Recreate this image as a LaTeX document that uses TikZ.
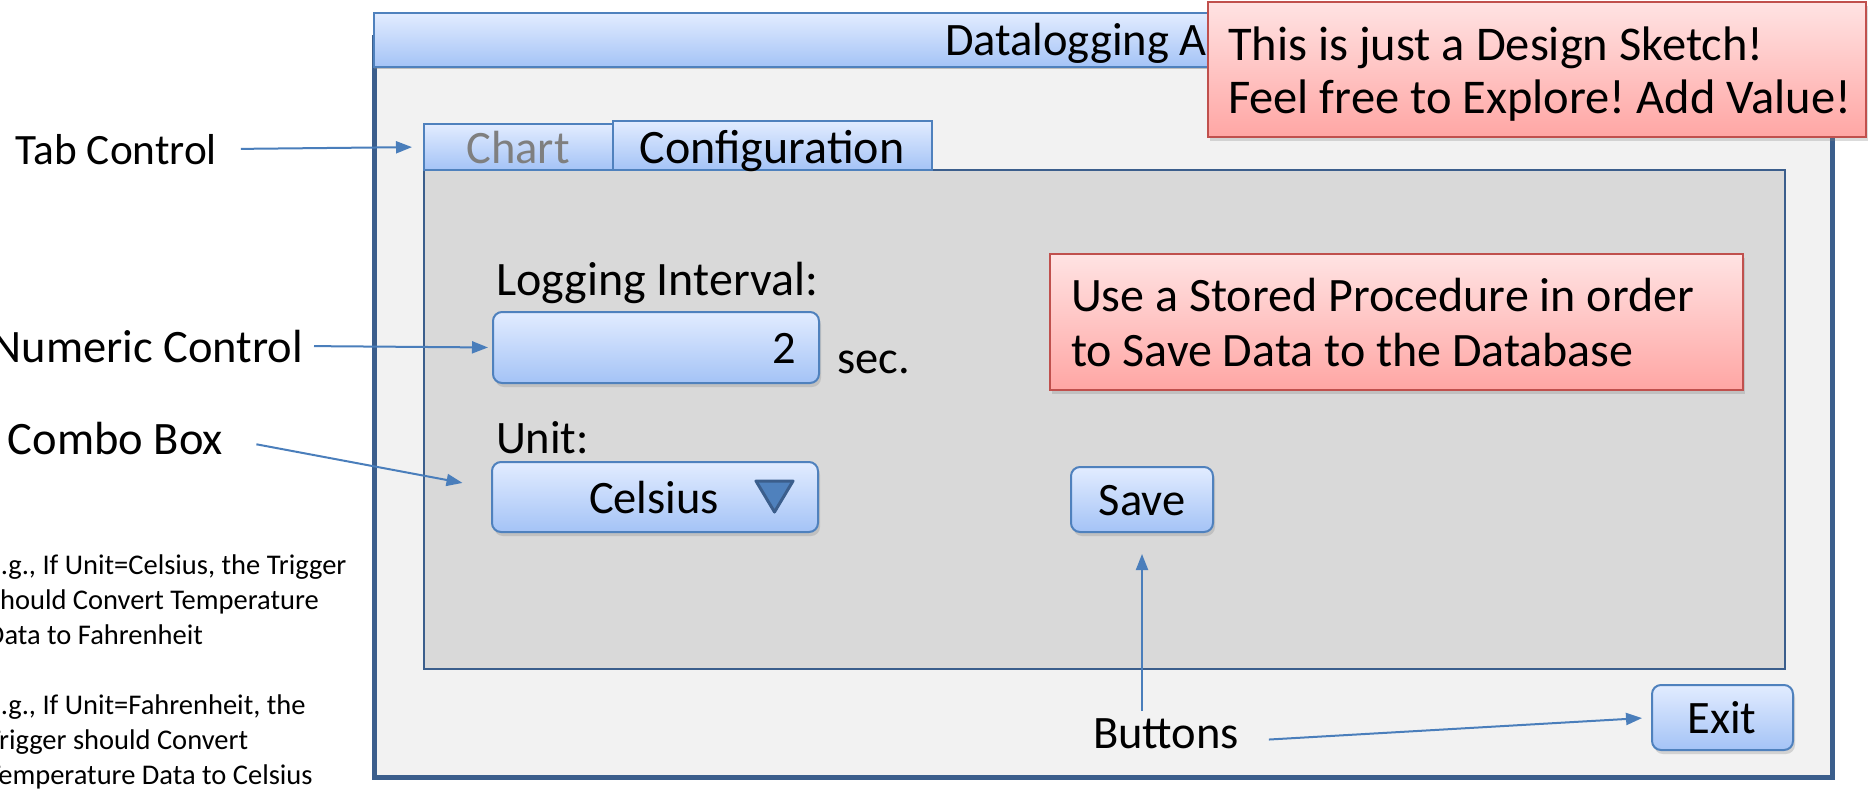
\documentclass[tikz,border=0pt]{standalone}
\usepackage{fontspec}
\setmainfont{Carlito}
\usetikzlibrary{shadows,arrows.meta,calc}
\frenchspacing

\definecolor{frameblue}{HTML}{3B5E8C}
\definecolor{edgeblue}{HTML}{4F81BD}
\definecolor{btntop}{HTML}{E2ECFF}
\definecolor{btnbot}{HTML}{A4C3F6}
\definecolor{notetop}{HTML}{FFE3E3}
\definecolor{notebot}{HTML}{FFA6A4}
\definecolor{noteedge}{HTML}{C0504D}
\definecolor{winfill}{HTML}{F2F2F2}
\definecolor{panelfill}{HTML}{D9D9D9}
\definecolor{arrowblue}{HTML}{4A7EBB}
\definecolor{tabgray}{HTML}{7F7F7F}

\tikzset{
  panelbox/.style={inner sep=0pt, outer sep=0pt, anchor=north west},
  widget/.style={panelbox, draw=edgeblue, line width=2pt, top color=btntop, bottom color=btnbot},
  softshadow/.style={drop shadow={shadow xshift=2pt, shadow yshift=-4pt, opacity=0.28}},
  button/.style={widget, rounded corners=9pt, softshadow},
  notebox/.style={panelbox, draw=noteedge, line width=2pt, top color=notetop, bottom color=notebot, softshadow},
  txt/.style={inner sep=0pt, outer sep=0pt, font=\fontsize{46.5}{56}\selectfont},
  bigtxt/.style={inner sep=0pt, outer sep=0pt, font=\fontsize{48}{56}\selectfont},
  smalltxt/.style={inner sep=0pt, outer sep=0pt, font=\fontsize{28.5}{35}\selectfont},
  arr/.style={draw=arrowblue, line width=2pt, -{Triangle[length=16pt,width=12pt]}},
}

\begin{document}
\begin{tikzpicture}[x=1pt,y=-1pt]
\useasboundingbox (0,0) rectangle (1868,790);
\clip (0,0) rectangle (1868,790);
\fill[white] (0,0) rectangle (1868,790);

% application window
\node[panelbox, draw=frameblue, line width=5pt, fill=winfill, minimum width=1458pt, minimum height=740pt,
      drop shadow={shadow xshift=1pt, shadow yshift=-2pt, opacity=0.2}] (window) at (374,37) {};
\node[widget, minimum width=1458pt, minimum height=54pt,
      drop shadow={shadow xshift=0pt, shadow yshift=-2pt, opacity=0.45}] (titlebar) at (374,13) {};
\node[txt, anchor=base west] (titleText) at (945,55) {Datalogging A};

% tab page
\node[panelbox, draw=frameblue, line width=2.5pt, fill=panelfill, minimum width=1361pt, minimum height=499pt] (panel) at (424,170) {};
\node[widget, minimum width=189pt, minimum height=46pt] (tabChart) at (424,124) {};
\node[widget, minimum width=319pt, minimum height=49pt] (tabConfig) at (613,121) {};
\node[txt, text=tabgray, anchor=base] (tabChartText) at (518,163) {Chart};
\node[bigtxt, anchor=base] (tabConfigText) at (772,163) {Configuration};

% logging interval
\node[bigtxt, anchor=base west] (lblInterval) at (496,295) {Logging Interval:};
\node[button, minimum width=326pt, minimum height=71pt] (numBox) at (493,312) {};
\node[txt, anchor=base east] (numValue) at (796,363) {2};
\node[txt, anchor=base west] (secUnit) at (837,373) {sec.};

% unit selection
\node[txt, anchor=base west] (lblUnit) at (496,453) {Unit:};
\node[button, minimum width=326pt, minimum height=70pt] (comboBox) at (492,462) {};
\node[txt, anchor=base west] (comboValue) at (589,513) {Celsius};
\draw[fill=edgeblue, draw=frameblue, line width=3pt, line join=round] (756,481) -- (793,481) -- (774.5,512) -- cycle;

% stored procedure note
\node[notebox, minimum width=693pt, minimum height=136pt] (procNote) at (1050,254) {};
\node[bigtxt, anchor=base west] (procNoteA) at (1071,311) {Use a Stored Procedure in order};
\node[bigtxt, anchor=base west] (procNoteB) at (1071,366) {to Save Data to the Database};

% buttons
\node[button, minimum width=142pt, minimum height=65pt] (saveBtn) at (1071,467) {};
\node[txt, anchor=base] (saveText) at (1142,515) {Save};
\node[button, minimum width=141pt, minimum height=65pt] (exitBtn) at (1652,685) {};
\node[txt, anchor=base] (exitText) at (1722,733) {Exit};

% sketch note over the title bar
\node[notebox, minimum width=658pt, minimum height=135pt] (sketchNote) at (1208,2) {};
\node[inner sep=0pt, outer sep=0pt, font=\fontsize{48.5}{56}\selectfont, anchor=base west] (sketchNoteA) at (1228,60) {This is just a Design Sketch!};
\node[inner sep=0pt, outer sep=0pt, font=\fontsize{48.5}{56}\selectfont, anchor=base west] (sketchNoteB) at (1228,113) {Feel free to Explore! Add Value!};

% callout labels
\node[inner sep=0pt, outer sep=0pt, font=\fontsize{43.3}{50}\selectfont, anchor=base west] (lblTab) at (16,164) {Tab Control};
\node[txt, anchor=base east] (lblNumeric) at (303,362) {Numeric Control};
\node[txt, anchor=base west] (lblCombo) at (8,454) {Combo Box};
\node[txt, anchor=base west] (lblButtons) at (1093,748) {Buttons};

% trigger remarks
\node[smalltxt, anchor=base west] (trigA1) at (-13,574) {E.g., If Unit=Celsius, the Trigger};
\node[smalltxt, anchor=base west] (trigA2) at (-13,609) {Should Convert Temperature};
\node[smalltxt, anchor=base west] (trigA3) at (-13,644) {Data to Fahrenheit};
\node[smalltxt, anchor=base west] (trigB1) at (-13,714) {E.g., If Unit=Fahrenheit, the};
\node[smalltxt, anchor=base west] (trigB2) at (-13,749) {Trigger should Convert};
\node[smalltxt, anchor=base west] (trigB3) at (-13,784) {Temperature Data to Celsius};

% callout arrows
\draw[arr, shorten <=24pt, shorten >=12pt] (lblTab.east) -- (tabChart.west);
\draw[arr, shorten <=11pt, shorten >=5pt] (lblNumeric.east) -- (numBox.west);
\draw[arr, shorten <=34pt, shorten >=30pt] (lblCombo.east) -- (comboBox.177);
\draw[arr, shorten <=7pt, shorten >=22pt] (lblButtons.north -| saveBtn.south) -- (saveBtn.south);
\draw[arr, shorten <=30pt, shorten >=10pt] ([yshift=-8pt]lblButtons.east) -- (exitBtn.west);
\end{tikzpicture}
\end{document}
